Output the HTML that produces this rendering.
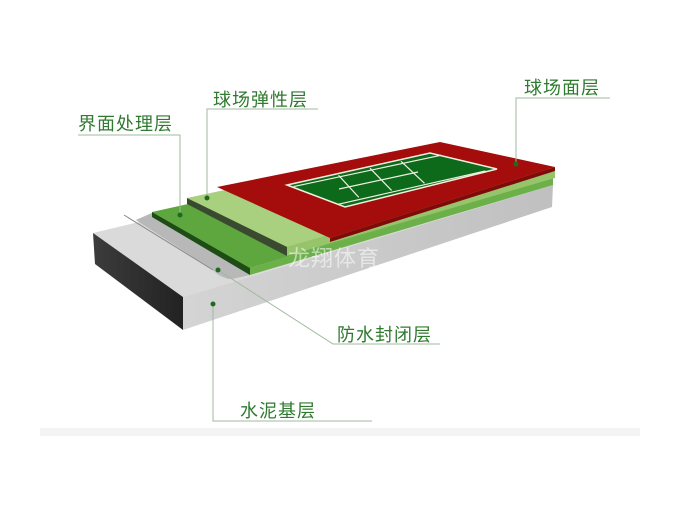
<!DOCTYPE html>
<html><head><meta charset="utf-8"><style>
html,body{margin:0;padding:0;background:#fff;}
svg{display:block}
text{font-family:"Liberation Sans","Noto Sans CJK SC",sans-serif;font-size:18px;fill:#2f7a2f;letter-spacing:1px}
</style></head><body>
<svg width="675" height="506" viewBox="0 0 675 506" xmlns="http://www.w3.org/2000/svg">
<defs>
<linearGradient id="gl" x1="0" y1="0" x2="1" y2="0"><stop offset="0" stop-color="#3c3c3c"/><stop offset="1" stop-color="#222"/></linearGradient>
<linearGradient id="gf" x1="0" y1="0" x2="1" y2="0"><stop offset="0" stop-color="#d4d4d4"/><stop offset="1" stop-color="#c0c0c0"/></linearGradient>
</defs>
<rect x="40" y="428" width="600" height="8" fill="#f4f4f4"/>
<!-- concrete -->
<polygon points="93,233 183,297 553,185 440,150" fill="#dadada"/>
<polygon points="93,233 183,297 183,330 95,264" fill="url(#gl)"/>
<polygon points="183,297 553,185 552,207 183,330" fill="url(#gf)"/>
<!-- waterproof -->
<polygon points="136,220 152,213 250,275 228,279 C 222,278 218,275 213,270" fill="#b4b4b4"/>
<path d="M136,220 L213,270 Q220,278 232,279 L250,275 L152,213 Z" fill="#b8b8b8"/>
<line x1="124" y1="215" x2="213" y2="270" stroke="#8a8a8a" stroke-width="1"/>
<!-- green slab -->
<polygon points="152,212 250,268 553,178 445,147" fill="#5ea63e"/>
<polygon points="152,212 250,268 250,275 152,217" fill="#1d4d14"/>
<polygon points="250,268 553,178 553,185 250,275" fill="#6cb04a"/>
<!-- light green slab -->
<polygon points="187,198 287,247 555,171 442,144" fill="#a9d07e"/>
<polygon points="187,198 287,247 287,256 187,204" fill="#3a4a30"/>
<polygon points="287,247 555,171 555,178 287,256" fill="#96c46a"/>
<!-- red -->
<polygon points="217,187 440,142 555,167 330,238" fill="#a50d0d"/>
<polygon points="330,238 555,167 555,171 330,242" fill="#7e0a0a"/>
<!-- court -->
<polygon points="287,185 430,153 497,169 345,207" fill="#0c6a1a" stroke="#f0f0e0" stroke-width="1.5"/>
<g stroke="#f0f0e0" stroke-width="1.2" fill="none">
<line x1="293.6" y1="186.6" x2="441.3" y2="155.2"/>
<line x1="337.6" y1="204.4" x2="485.4" y2="170.9"/>
<line x1="339" y1="189" x2="418" y2="172"/>
<line x1="338.6" y1="175.3" x2="358.8" y2="197.4"/>
<line x1="370" y1="168.2" x2="391.6" y2="190.4"/>
<line x1="401" y1="161.3" x2="424.5" y2="183.3"/>
</g>
<!-- watermark -->
<text x="288" y="266" style="font-size:22px;fill:#ffffff;fill-opacity:0.55">龙翔体育</text>
<!-- leaders -->
<g stroke="#9fb89f" stroke-width="1" fill="none">
<polyline points="78,135 180,135 180,215"/>
<polyline points="318,109 207,109 207,198"/>
<polyline points="610,98 516,98 516,164"/>
<polyline points="218,270 333,344 440,344"/>
<polyline points="213,304 213,421 372,421"/>
</g>
<g fill="#1f6a1f">
<circle cx="180" cy="215" r="2.5"/><circle cx="207" cy="198" r="2.5"/>
<circle cx="516" cy="164" r="2.5"/><circle cx="218" cy="270" r="2.5"/>
<circle cx="213" cy="304" r="2.5"/>
</g>
<text x="78" y="130">界面处理层</text>
<text x="213" y="106">球场弹性层</text>
<text x="524" y="94">球场面层</text>
<text x="337" y="341">防水封闭层</text>
<text x="240" y="417">水泥基层</text>
</svg>
</body></html>
